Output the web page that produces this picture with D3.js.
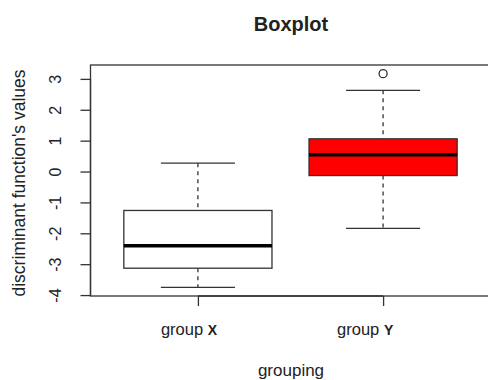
<!DOCTYPE html>
<html>
<head>
<meta charset="utf-8">
<script src="https://cdn.jsdelivr.net/npm/d3@7"></script>
<style>
  body { margin: 0; background: #fff; }
  text { font-family: "Liberation Sans", Arial, sans-serif; fill: #222; }
</style>
</head>
<body>
<div id="chart"></div>
<script>
// group names + five number summaries
var groups = ["X", "Y"]
var lowWhisker = [-3.75, -1.84]
var q1 = [-3.13, -0.13]
var medians = [-2.40, 0.54]
var q3 = [-1.26, 1.06]
var highWhisker = [0.27, 2.63]
var outliers = [[], [3.17]]
var yTicks = [-4, -3, -2, -1, 0, 1, 2, 3]

var width = 488, height = 380

var svg = d3.select("#chart")
  .append("svg")
  .attr("width", width)
  .attr("height", height)

// R style plot region (usr extended by 4%)
var x = d3.scaleLinear().domain([0.42, 2.58]).range([90.5, 490.5])
var y = d3.scaleLinear().domain([-4.03, 3.45]).range([296, 65])

var lineCol = "#333"

// plot frame
svg.append("rect")
  .attr("x", x(0.42))
  .attr("y", y(3.45))
  .attr("width", x(2.58) - x(0.42))
  .attr("height", y(-4.03) - y(3.45))
  .attr("fill", "none")
  .attr("stroke", lineCol)
  .attr("stroke-width", 1.3)

// y axis
var yAxis = d3.axisLeft(y)
  .tickValues(yTicks)
  .tickSize(10)
  .tickFormat(function(d) { return String(d) })  // plain hyphen minus like R

var gy = svg.append("g")
  .attr("transform", "translate(" + x(0.42) + ",0)")
  .call(yAxis)
gy.select(".domain").attr("d", "M0," + y(-4) + "V" + y(3)).attr("stroke", lineCol).attr("stroke-width", 1.3)
gy.selectAll(".tick line").attr("stroke", lineCol).attr("stroke-width", 1.3)
gy.selectAll(".tick text")
  .attr("x", null).attr("dy", null)
  .attr("text-anchor", "middle")
  .attr("transform", "translate(-30,0) rotate(-90)")
  .style("font-size", "16px")
  .style("font-family", "Liberation Sans, Arial, sans-serif")
  .attr("fill", "#222")

// x axis (ticks only at the groups)
var xAxis = d3.axisBottom(x)
  .tickValues([1, 2])
  .tickSize(10)
  .tickFormat("")
var gx = svg.append("g")
  .attr("transform", "translate(0," + y(-4.03) + ")")
  .call(xAxis)
gx.select(".domain").attr("d", "M" + x(1) + ",0H" + x(2)).attr("stroke", lineCol).attr("stroke-width", 1.3)
gx.selectAll(".tick line").attr("stroke", lineCol).attr("stroke-width", 1.3)

// group labels: "group" + bold letter
var labelShift = [-37, -46]
groups.forEach(function(g, i) {
  var t = svg.append("text")
    .attr("x", x(i + 1) + labelShift[i])
    .attr("y", 335)
    .style("font-size", "16.5px")
  t.append("tspan").text("group ")
  t.append("tspan").style("font-weight", "bold").style("font-size", "14px").text(g)
})

// boxes
var boxHalf = 0.4, capHalf = 0.2
groups.forEach(function(g, i) {
  var cx = i + 1
  var gBox = svg.append("g")

  // whiskers
  gBox.append("line")
    .attr("x1", x(cx)).attr("x2", x(cx))
    .attr("y1", y(highWhisker[i])).attr("y2", y(q3[i]))
    .attr("stroke", lineCol).attr("stroke-width", 1.3)
    .attr("stroke-dasharray", "4,4")
  gBox.append("line")
    .attr("x1", x(cx)).attr("x2", x(cx))
    .attr("y1", y(q1[i])).attr("y2", y(lowWhisker[i]))
    .attr("stroke", lineCol).attr("stroke-width", 1.3)
    .attr("stroke-dasharray", "4,4")
  // caps
  ;[highWhisker[i], lowWhisker[i]].forEach(function(v) {
    gBox.append("line")
      .attr("x1", x(cx - capHalf)).attr("x2", x(cx + capHalf))
      .attr("y1", y(v)).attr("y2", y(v))
      .attr("stroke", lineCol).attr("stroke-width", 1.3)
  })

  gBox.append("rect")
    .attr("x", x(cx - boxHalf))
    .attr("y", y(q3[i]))
    .attr("width", x(cx + boxHalf) - x(cx - boxHalf))
    .attr("height", y(q1[i]) - y(q3[i]))
    .attr("fill", i == 1 ? "#ff0000" : "#fff")
    .attr("stroke", lineCol)
    .attr("stroke-width", 1.3)

  gBox.append("line")
    .attr("x1", x(cx - boxHalf)).attr("x2", x(cx + boxHalf))
    .attr("y1", y(medians[i])).attr("y2", y(medians[i]))
    .attr("stroke", "#000").attr("stroke-width", 3.5)

  gBox.selectAll("circle")
    .data(outliers[i])
    .enter()
    .append("circle")
    .attr("cx", x(cx))
    .attr("cy", function(d) { return y(d) })
    .attr("r", 4)
    .attr("fill", "none")
    .attr("stroke", lineCol)
    .attr("stroke-width", 1.3)
})

// titles
svg.append("text")
  .attr("x", 291).attr("y", 31)
  .attr("text-anchor", "middle")
  .style("font-size", "20px")
  .style("font-weight", "bold")
  .text("Boxplot")

svg.append("text")
  .attr("x", 291).attr("y", 376)
  .attr("text-anchor", "middle")
  .style("font-size", "17px")
  .text("grouping")

svg.append("text")
  .attr("transform", "translate(25,183) rotate(-90)")
  .attr("text-anchor", "middle")
  .style("font-size", "17.5px")
  .text("discriminant function's values")
</script>
</body>
</html>
